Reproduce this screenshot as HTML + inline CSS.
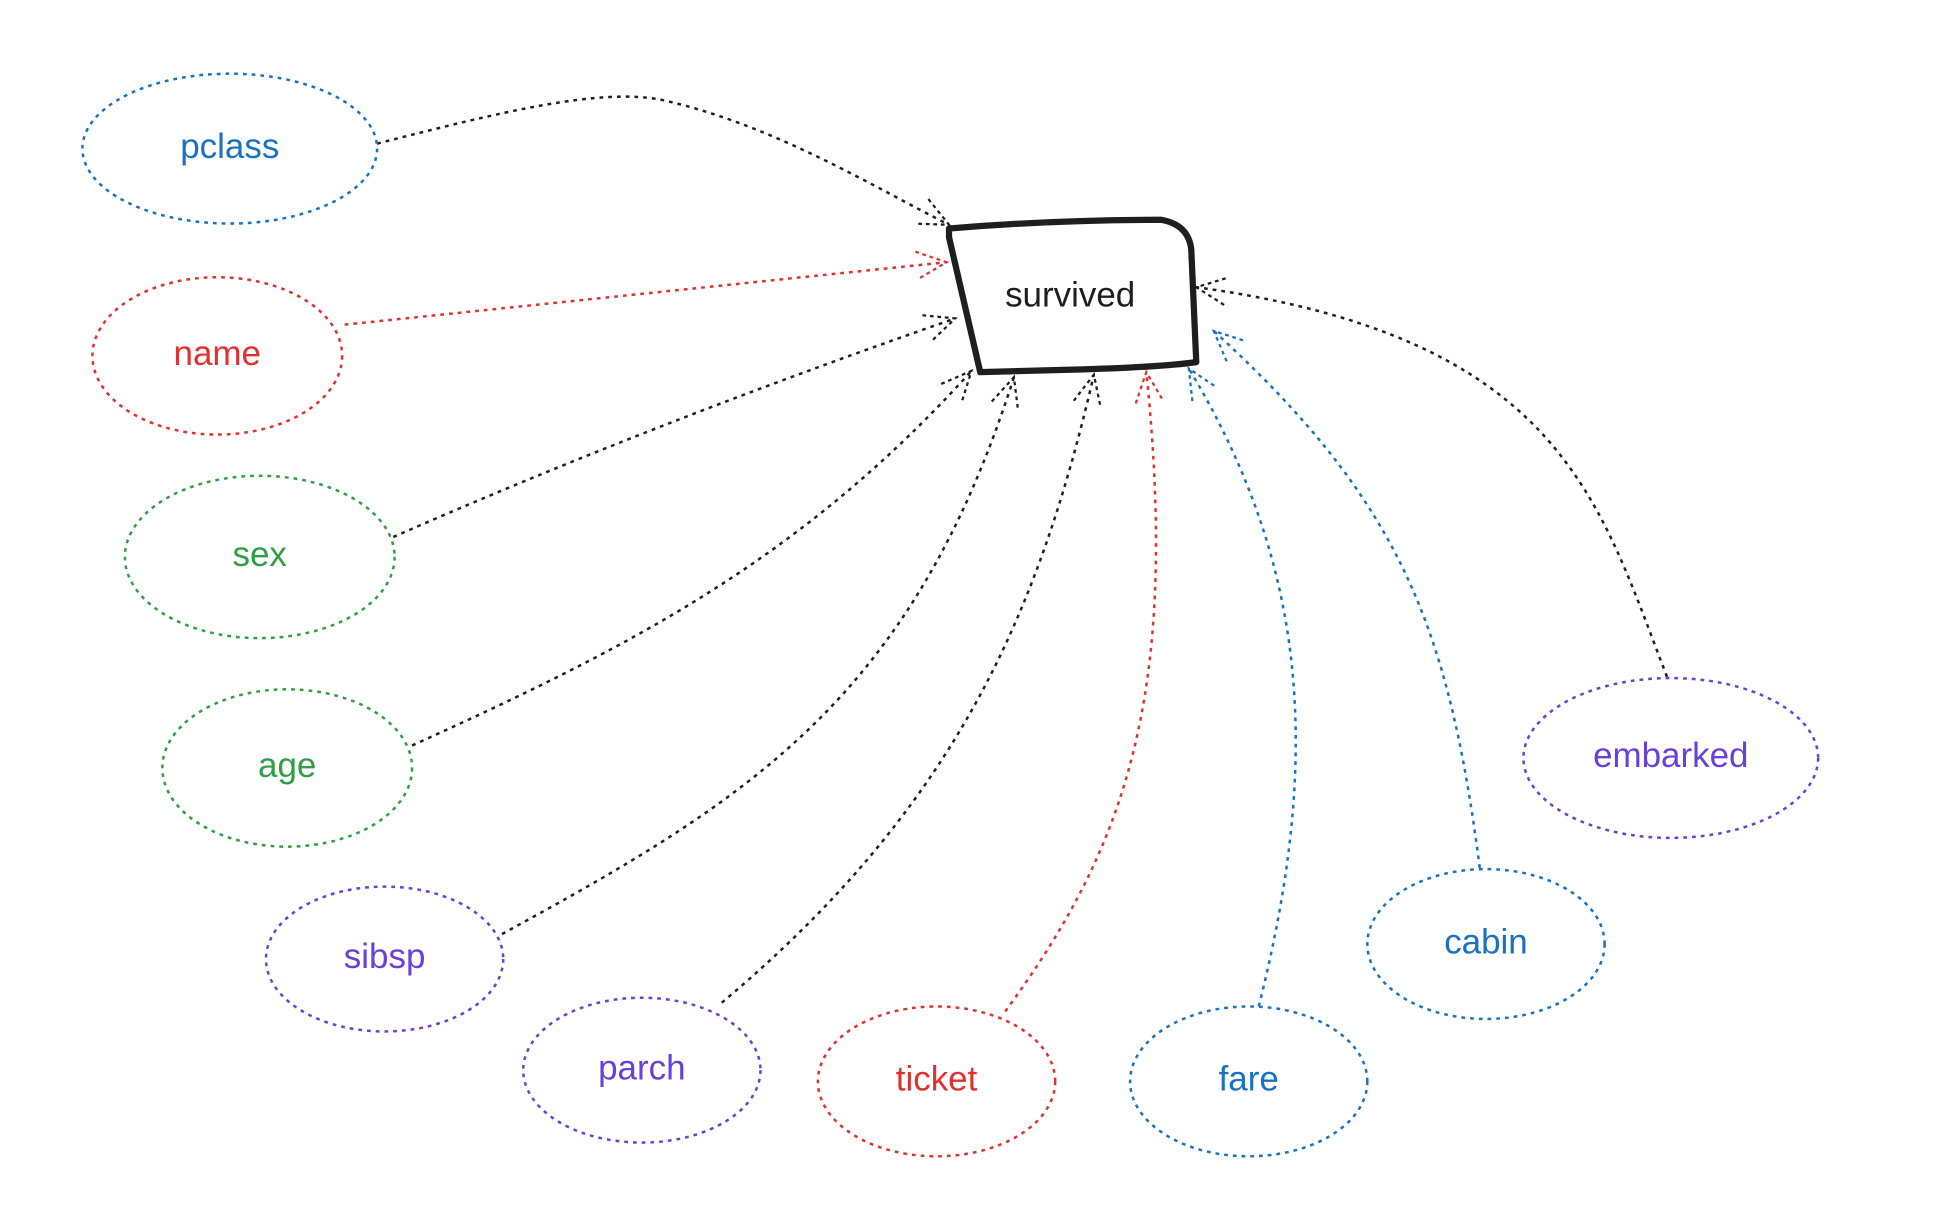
<!DOCTYPE html>
<html><head><meta charset="utf-8"><style>
html,body{margin:0;padding:0;background:#fff}
svg{display:block}
text{font-family:"Liberation Sans",sans-serif;text-anchor:middle;dominant-baseline:middle}
</style></head><body>
<svg width="1948" height="1228" viewBox="0 0 1560 983.4" xmlns="http://www.w3.org/2000/svg">
<defs>
<marker id="ak" viewBox="0 0 28 28" refX="26" refY="14" markerWidth="28" markerHeight="28" markerUnits="userSpaceOnUse" orient="auto"><path d="M2,3 L26,14 L2,25" fill="none" stroke="#1e1e1e" stroke-width="1.8" stroke-dasharray="3 3"/></marker>
<marker id="ar" viewBox="0 0 28 28" refX="26" refY="14" markerWidth="28" markerHeight="28" markerUnits="userSpaceOnUse" orient="auto"><path d="M2,3 L26,14 L2,25" fill="none" stroke="#e03131" stroke-width="1.8" stroke-dasharray="3 3"/></marker>
<marker id="ab" viewBox="0 0 28 28" refX="26" refY="14" markerWidth="28" markerHeight="28" markerUnits="userSpaceOnUse" orient="auto"><path d="M2,3 L26,14 L2,25" fill="none" stroke="#1971c2" stroke-width="1.8" stroke-dasharray="3 3"/></marker>
</defs>
<g fill="none" stroke-width="2" stroke-dasharray="3 4">
<path d="M302,115 C400,90 480,70 530,80 C620,100 700,150 760,180" stroke="#1e1e1e" marker-end="url(#ak)"/>
<path d="M276,260 L758,210" stroke="#e03131" marker-end="url(#ar)"/>
<path d="M315,430 Q520,340 765,255" stroke="#1e1e1e" marker-end="url(#ak)"/>
<path d="M330,597 C500,520 640,450 778,297" stroke="#1e1e1e" marker-end="url(#ak)"/>
<path d="M402,748 C600,640 730,560 812,302" stroke="#1e1e1e" marker-end="url(#ak)"/>
<path d="M578,803 C760,650 830,500 876,300" stroke="#1e1e1e" marker-end="url(#ak)"/>
<path d="M805,810 C900,680 945,560 918,298" stroke="#e03131" marker-end="url(#ar)"/>
<path d="M1008,806 C1060,600 1045,450 952,295" stroke="#1971c2" marker-end="url(#ab)"/>
<path d="M1185,695 C1160,500 1120,400 972,265" stroke="#1971c2" marker-end="url(#ab)"/>
<path d="M1335,542 C1280,400 1250,270 958,230" stroke="#1e1e1e" marker-end="url(#ak)"/>
<ellipse cx="184" cy="119" rx="118" ry="60" stroke="#1971c2"/>
<ellipse cx="174" cy="285" rx="100" ry="63" stroke="#e03131"/>
<ellipse cx="208" cy="446" rx="108" ry="65" stroke="#2f9e44"/>
<ellipse cx="230" cy="615" rx="100" ry="63" stroke="#2f9e44"/>
<ellipse cx="308" cy="768" rx="95" ry="58" stroke="#6741d9"/>
<ellipse cx="514" cy="857" rx="95" ry="58" stroke="#6741d9"/>
<ellipse cx="750" cy="866" rx="95" ry="60" stroke="#e03131"/>
<ellipse cx="1000" cy="866" rx="95" ry="60" stroke="#1971c2"/>
<ellipse cx="1190" cy="756" rx="95" ry="60" stroke="#1971c2"/>
<ellipse cx="1338" cy="607" rx="118" ry="64" stroke="#6741d9"/>
</g>
<path d="M760,183 C820,178 880,176 930,176 Q952,180 954,200 L958,290 Q930,294 860,296 L785,298 L760,190 Z" fill="#fff" stroke="#1e1e1e" stroke-width="5" stroke-linejoin="round"/>
<text x="857" y="238" font-size="28" fill="#1e1e1e">survived</text>
<g font-size="28">
<text x="184" y="119" fill="#1971c2">pclass</text>
<text x="174" y="285" fill="#e03131">name</text>
<text x="208" y="446" fill="#2f9e44">sex</text>
<text x="230" y="615" fill="#2f9e44">age</text>
<text x="308" y="768" fill="#6741d9">sibsp</text>
<text x="514" y="857" fill="#6741d9">parch</text>
<text x="750" y="866" fill="#e03131">ticket</text>
<text x="1000" y="866" fill="#1971c2">fare</text>
<text x="1190" y="756" fill="#1971c2">cabin</text>
<text x="1338" y="607" fill="#6741d9">embarked</text>
</g>
</svg>
</body></html>
